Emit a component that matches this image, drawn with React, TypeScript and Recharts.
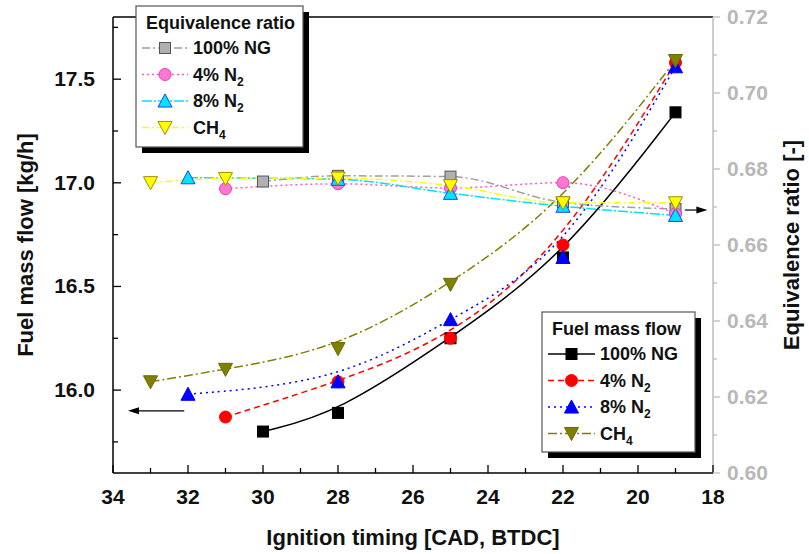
import React from "react";
import { ComposedChart, Line, XAxis, YAxis, ReferenceLine } from "recharts";

// ignition timing [CAD, BTDC]
const ngX = [30, 28, 25, 22, 19];
const n4X = [31, 28, 25, 22, 19];
const n8X = [32, 28, 25, 22, 19];
const ch4X = [33, 31, 28, 25, 22, 19];

// fuel mass flow [kg/h]
const ngFuel = [15.8, 15.89, 16.25, 16.64, 17.34];
const n4Fuel = [15.87, 16.04, 16.25, 16.7, 17.58];
const n8Fuel = [15.98, 16.04, 16.34, 16.64, 17.56];
const ch4Fuel = [16.04, 16.1, 16.2, 16.51, 16.9, 17.59];

// equivalence ratio [-]
const ngEq = [0.6767, 0.6782, 0.678, 0.6712, 0.6695];
const n4Eq = [0.6748, 0.6761, 0.675, 0.6764, 0.6682];
const n8Eq = [0.6777, 0.6773, 0.6736, 0.6702, 0.6678];
const ch4Eq = [0.6764, 0.6775, 0.6776, 0.6756, 0.6711, 0.6711];

const xTicks = [34, 33, 32, 31, 30, 29, 28, 27, 26, 25, 24, 23, 22, 21, 20, 19, 18];
const leftTicks = [15.75, 16, 16.25, 16.5, 16.75, 17, 17.25, 17.5, 17.75];
const rightTicks = [0.6, 0.61, 0.62, 0.63, 0.64, 0.65, 0.66, 0.67, 0.68, 0.69, 0.7, 0.71, 0.72];

const FONT = '"Liberation Sans", Arial, Helvetica, sans-serif';

const pts = (xs: number[], ys: number[]) => xs.map((x, i) => ({ x, y: ys[i] }));

type Shape = "square" | "circle" | "up" | "down";

function Marker({ shape, cx, cy, fill, stroke, s = 11 }: any) {
  if (shape === "square")
    return <rect x={cx - s / 2} y={cy - s / 2} width={s} height={s} fill={fill} stroke={stroke} strokeWidth={1} />;
  if (shape === "circle") return <circle cx={cx} cy={cy} r={s / 2 + 0.5} fill={fill} stroke={stroke} strokeWidth={1} />;
  const h = s * 0.55;
  if (shape === "up")
    return (
      <polygon
        points={`${cx},${cy - h - 1} ${cx - h - 1},${cy + h} ${cx + h + 1},${cy + h}`}
        fill={fill}
        stroke={stroke}
        strokeWidth={1}
      />
    );
  return (
    <polygon
      points={`${cx},${cy + h + 1} ${cx - h - 1},${cy - h} ${cx + h + 1},${cy - h}`}
      fill={fill}
      stroke={stroke}
      strokeWidth={1}
    />
  );
}

const dotFn = (id: string, shape: Shape, fill: string, stroke: string) => (p: any) => (
  <Marker key={`${id}-${p.index}`} shape={shape} cx={p.cx} cy={p.cy} fill={fill} stroke={stroke} />
);

const fuelSeries = [
  { id: "fng", data: pts(ngX, ngFuel), color: "#000", dash: undefined, shape: "square" as Shape, fill: "#000", mk: "#000" },
  { id: "fn4", data: pts(n4X, n4Fuel), color: "#ff0000", dash: "6 4", shape: "circle" as Shape, fill: "#ff0000", mk: "#ff0000" },
  { id: "fn8", data: pts(n8X, n8Fuel), color: "#0000ff", dash: "2 4", shape: "up" as Shape, fill: "#0000ff", mk: "#0000ff" },
  { id: "fch4", data: pts(ch4X, ch4Fuel), color: "#808000", dash: "9 3 2 3", shape: "down" as Shape, fill: "#808000", mk: "#6b6b00" },
];

const eqSeries = [
  { id: "eng", data: pts(ngX, ngEq), color: "#a0a0a0", dash: "8 3 2 3", shape: "square" as Shape, fill: "#b0b0b0", mk: "#555" },
  { id: "en4", data: pts(n4X, n4Eq), color: "#ff55cc", dash: "2 3", shape: "circle" as Shape, fill: "#ff77d0", mk: "#e040b0" },
  { id: "en8", data: pts(n8X, n8Eq), color: "#00e0ff", dash: "10 2 2 2", shape: "up" as Shape, fill: "#00e5ff", mk: "#2040ff" },
  { id: "ech4", data: pts(ch4X, ch4Eq), color: "#ffff00", dash: "7 3 2 3", shape: "down" as Shape, fill: "#ffff00", mk: "#a09000" },
];

const LeftTick = (p: any) => {
  const v = p.payload.value;
  const major = Math.abs(v * 2 - Math.round(v * 2)) < 1e-6;
  return (
    <g>
      <line x1={p.x} x2={p.x + (major ? 8 : 5)} y1={p.y} y2={p.y} stroke="#000" strokeWidth={1.3} />
      {major && (
        <text x={p.x - 18} y={p.y + 7} textAnchor="end" fontFamily={FONT} fontWeight="bold" fontSize={21} fill="#111">
          {v.toFixed(1)}
        </text>
      )}
    </g>
  );
};

const RightTick = (p: any) => {
  const v = p.payload.value;
  const major = Math.round(v * 100) % 2 === 0;
  return (
    <g>
      <line x1={p.x} x2={p.x + (major ? 7 : 4)} y1={p.y} y2={p.y} stroke="#bdbdbd" strokeWidth={1.3} />
      {major && (
        <text x={p.x + 14} y={p.y + 7} textAnchor="start" fontFamily={FONT} fontWeight="bold" fontSize={21} fill="#b8b8b8">
          {v.toFixed(2)}
        </text>
      )}
    </g>
  );
};

const BottomTick = (p: any) => {
  const v = p.payload.value;
  const major = v % 2 === 0;
  return (
    <g>
      <line x1={p.x} x2={p.x} y1={p.y} y2={p.y - (major ? 8 : 5)} stroke="#000" strokeWidth={1.3} />
      {major && (
        <text x={p.x} y={p.y + 31} textAnchor="middle" fontFamily={FONT} fontWeight="bold" fontSize={21} fill="#111">
          {v}
        </text>
      )}
    </g>
  );
};

const arrowShape = (p: any) => {
  const { x1, y1, x2, y2 } = p;
  const dir = x2 > x1 ? 1 : -1;
  return (
    <g>
      <line x1={x1} y1={y1} x2={x2 - dir * 8} y2={y2} stroke="#000" strokeWidth={1.2} />
      <polygon points={`${x2},${y2} ${x2 - dir * 11},${y2 - 3.5} ${x2 - dir * 11},${y2 + 3.5}`} fill="#000" />
    </g>
  );
};

const Label = ({ x, y, text, sub }: any) => (
  <text x={x} y={y} fontFamily={FONT} fontWeight="bold" fontSize={18} fill="#111">
    {text}
    {sub && (
      <tspan fontSize={12} dy={5}>
        {sub}
      </tspan>
    )}
  </text>
);

function LegendBox({ x, y, w, h, title, items, lx1, lx2, tx }: any) {
  return (
    <g>
      <rect x={x + 6} y={y + 6} width={w} height={h} fill="#000" />
      <rect x={x} y={y} width={w} height={h} fill="#fff" stroke="#555" strokeWidth={1.2} />
      <Label x={x + 10} y={y + 23} text={title} />
      {items.map((it: any, i: number) => {
        const cy = y + 42 + i * 26.5;
        return (
          <g key={i}>
            <line x1={x + lx1} x2={x + lx2} y1={cy} y2={cy} stroke={it.color} strokeWidth={1.5} strokeDasharray={it.dash} />
            <Marker shape={it.shape} cx={x + (lx1 + lx2) / 2} cy={cy} fill={it.fill} stroke={it.mk} />
            <Label x={x + tx} y={cy + 6} text={it.text} sub={it.sub} />
          </g>
        );
      })}
    </g>
  );
}

const names = [
  { text: "100% NG" },
  { text: "4% N", sub: "2" },
  { text: "8% N", sub: "2" },
  { text: "CH", sub: "4" },
];

export default function App() {
  return (
    <div style={{ position: "absolute", left: 0, top: 0, width: 809, height: 554, background: "#fff" }}>
      <ComposedChart width={809} height={554} margin={{ top: 17, right: 0, bottom: 0, left: 0 }}>
        <XAxis
          xAxisId="b"
          dataKey="x"
          type="number"
          domain={[18, 34]}
          reversed
          ticks={xTicks}
          interval={0}
          height={81}
          tickSize={0}
          tickMargin={0}
          tickLine={false}
          tick={BottomTick}
          axisLine={{ stroke: "#000", strokeWidth: 1.5 }}
        />
        <YAxis
          yAxisId="left"
          orientation="left"
          type="number"
          domain={[15.6, 17.8]}
          ticks={leftTicks}
          interval={0}
          width={113}
          tickSize={0}
          tickMargin={0}
          tickLine={false}
          tick={LeftTick}
          axisLine={{ stroke: "#000", strokeWidth: 1.5 }}
        />
        <YAxis
          yAxisId="right"
          orientation="right"
          type="number"
          domain={[0.6, 0.72]}
          ticks={rightTicks}
          interval={0}
          width={96}
          tickSize={0}
          tickMargin={0}
          tickLine={false}
          tick={RightTick}
          axisLine={{ stroke: "#bdbdbd", strokeWidth: 1.5 }}
        />
        <ReferenceLine xAxisId="b" yAxisId="left" y={17.8} stroke="#000" strokeWidth={1.5} />
        {fuelSeries.map((s) => (
          <Line
            key={s.id}
            xAxisId="b"
            yAxisId="left"
            data={s.data}
            dataKey="y"
            type="basis"
            stroke={s.color}
            strokeWidth={1.5}
            strokeDasharray={s.dash}
            dot={dotFn(s.id, s.shape, s.fill, s.mk)}
            activeDot={false}
            isAnimationActive={false}
          />
        ))}
        {eqSeries.map((s) => (
          <Line
            key={s.id}
            xAxisId="b"
            yAxisId="right"
            data={s.data}
            dataKey="y"
            type="monotone"
            stroke={s.color}
            strokeWidth={1.5}
            strokeDasharray={s.dash}
            dot={dotFn(s.id, s.shape, s.fill, s.mk)}
            activeDot={false}
            isAnimationActive={false}
          />
        ))}
        <ReferenceLine
          xAxisId="b"
          yAxisId="left"
          segment={[
            { x: 32.1, y: 15.9 },
            { x: 33.6, y: 15.9 },
          ]}
          shape={arrowShape}
        />
        <ReferenceLine
          xAxisId="b"
          yAxisId="right"
          segment={[
            { x: 18.75, y: 0.6692 },
            { x: 18.15, y: 0.6692 },
          ]}
          shape={arrowShape}
        />
      </ComposedChart>
      <svg width={809} height={554} style={{ position: "absolute", left: 0, top: 0, pointerEvents: "none" }}>
        <LegendBox
          x={136}
          y={6}
          w={167}
          h={141}
          title="Equivalence ratio"
          items={eqSeries.map((s, i) => ({ ...s, ...names[i] }))}
          lx1={6}
          lx2={52}
          tx={57}
        />
        <LegendBox
          x={542}
          y={312}
          w={153}
          h={140}
          title="Fuel mass flow"
          items={fuelSeries.map((s, i) => ({ ...s, ...names[i] }))}
          lx1={6}
          lx2={53}
          tx={58}
        />
        <text x={413} y={545} textAnchor="middle" fontFamily={FONT} fontWeight="bold" fontSize={22} fill="#111">
          Ignition timing [CAD, BTDC]
        </text>
        <text
          transform="translate(33,245) rotate(-90)"
          textAnchor="middle"
          fontFamily={FONT}
          fontWeight="bold"
          fontSize={22}
          fill="#111"
        >
          Fuel mass flow [kg/h]
        </text>
        <text
          transform="translate(799,245) rotate(-90)"
          textAnchor="middle"
          fontFamily={FONT}
          fontWeight="bold"
          fontSize={22}
          fill="#111"
        >
          Equivalence ratio [-]
        </text>
      </svg>
    </div>
  );
}
